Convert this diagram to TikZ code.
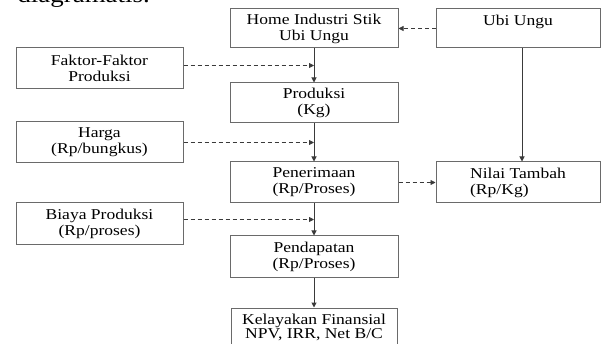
\documentclass[tikz,border=0pt]{standalone}
\usepackage{fontspec}
\setmainfont{Liberation Serif}[FakeStretch=1.17]
\usepackage{tikz}
\usetikzlibrary{arrows.meta,positioning,calc}
\definecolor{lineGray}{HTML}{3A3A3A}
\definecolor{boxGray}{HTML}{6A6A6A}
\tikzset{
  >={Triangle[length=5pt,width=5pt]},
  every picture/.append style={font=\fontsize{15}{16}\selectfont},
  box/.style={rectangle,draw=boxGray,line width=1pt,fill=white,inner sep=2pt,align=center,minimum width=168pt,minimum height=39pt},
  sidebox/.style={box,minimum width=167pt,minimum height=41pt},
  flowarrow/.style={->,draw=lineGray,line width=1pt},
  dasharrow/.style={->,draw=lineGray,line width=0.8pt,dash pattern=on 4pt off 3pt},
}

\begin{document}
\begin{tikzpicture}[x=1pt,y=-1pt]
  \useasboundingbox (0,0) rectangle (601,344);
  \clip (0,0) rectangle (601,344);

  \node[anchor=base west, font=\fontsize{23}{23}\selectfont] (lead) at (14,2.5) {diagramatis.};

  % main column
  \node[box] (home) at (314,28.5) {Home Industri Stik\\Ubi Ungu};
  \node[box, minimum height=40pt] (produksi) at (314,103) {Produksi\\(Kg)};
  \node[box, minimum height=41pt] (terima) at (314,182.5) {Penerimaan\\(Rp/Proses)};
  \node[box, minimum height=41pt] (dapat) at (314,256.5) {Pendapatan\\(Rp/Proses)};
  \node[box, minimum width=166pt, minimum height=38pt, font=\fontsize{15}{14}\selectfont] (layak) at (314,327) {Kelayakan Finansial\\NPV, IRR, Net B/C};

  % inputs
  \node[sidebox] (faktor) at (99.5,68.5) {Faktor-Faktor\\Produksi};
  \node[sidebox] (harga) at (99.5,142) {Harga\\(Rp/bungkus)};
  \node[sidebox] (biaya) at (99.5,223.5) {Biaya Produksi\\ (Rp/proses)};

  \node[box, minimum width=164pt] (ubi) at (518,28.5) {Ubi Ungu\\ \mbox{}};
  \node[box, minimum width=164pt, minimum height=41pt, align=left] (nilai) at (518,182.5) {Nilai Tambah\\(Rp/Kg)};

  \draw[flowarrow] (home) -- coordinate (m1) (produksi);
  \draw[flowarrow] (produksi) -- coordinate (m2) (terima);
  \draw[flowarrow] (terima) -- coordinate (m3) (dapat);
  \draw[flowarrow] (dapat) -- (layak);
  \draw[flowarrow] ([xshift=4pt]ubi.south) -- ([xshift=4pt]nilai.north);

  \draw[dasharrow] (faktor.east |- m1) -- (m1);
  \draw[dasharrow] (harga.east |- m2) -- (m2);
  \draw[dasharrow] (biaya.east |- m3) -- (m3);
  \draw[dasharrow] (ubi) -- (home);
  \draw[dasharrow] (terima) -- (nilai);
\end{tikzpicture}
\end{document}
